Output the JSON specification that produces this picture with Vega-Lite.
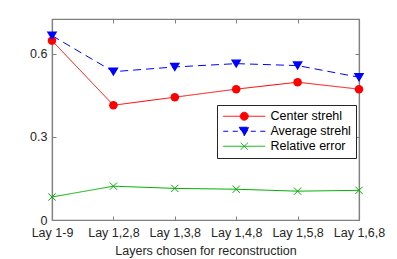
{
  "$schema": "https://vega.github.io/schema/vega-lite/v6.json",
  "width": 307,
  "height": 201,
  "autosize": {"type": "none"},
  "padding": {"left": 52, "top": 19, "right": 38, "bottom": 39},
  "background": "white",
  "config": {
    "font": "Liberation Sans",
    "view": {"stroke": "#808080", "strokeWidth": 1.2},
    "axis": {"domainColor": "#808080", "domainWidth": 1.2, "tickColor": "#808080", "labelColor": "#262626", "titleColor": "#262626", "labelFontSize": 12.5, "titleFontSize": 12.5, "titleFontWeight": "normal", "grid": false}
  },
  "data": {"values": [
    {"layers": "Lay 1-9", "series": "Center strehl", "value": 0.647},
    {"layers": "Lay 1,2,8", "series": "Center strehl", "value": 0.414},
    {"layers": "Lay 1,3,8", "series": "Center strehl", "value": 0.443},
    {"layers": "Lay 1,4,8", "series": "Center strehl", "value": 0.472},
    {"layers": "Lay 1,5,8", "series": "Center strehl", "value": 0.497},
    {"layers": "Lay 1,6,8", "series": "Center strehl", "value": 0.472},
    {"layers": "Lay 1-9", "series": "Average strehl", "value": 0.665},
    {"layers": "Lay 1,2,8", "series": "Average strehl", "value": 0.535},
    {"layers": "Lay 1,3,8", "series": "Average strehl", "value": 0.552},
    {"layers": "Lay 1,4,8", "series": "Average strehl", "value": 0.564},
    {"layers": "Lay 1,5,8", "series": "Average strehl", "value": 0.557},
    {"layers": "Lay 1,6,8", "series": "Average strehl", "value": 0.515},
    {"layers": "Lay 1-9", "series": "Relative error", "value": 0.083},
    {"layers": "Lay 1,2,8", "series": "Relative error", "value": 0.122},
    {"layers": "Lay 1,3,8", "series": "Relative error", "value": 0.114},
    {"layers": "Lay 1,4,8", "series": "Relative error", "value": 0.111},
    {"layers": "Lay 1,5,8", "series": "Relative error", "value": 0.104},
    {"layers": "Lay 1,6,8", "series": "Relative error", "value": 0.107}
  ]},
  "resolve": {"axis": {"x": "independent", "y": "independent"}},
  "encoding": {
    "x": {"field": "layers", "type": "ordinal", "sort": null, "scale": {"type": "point", "padding": 0},
          "axis": {"title": "Layers chosen for reconstruction", "labelAngle": 0, "tickSize": -4, "labelPadding": 10, "titlePadding": 6}},
    "y": {"field": "value", "type": "quantitative", "scale": {"domain": [0, 0.725], "nice": false},
          "axis": {"title": null, "values": [0, 0.3, 0.6], "format": ".1~f", "tickSize": -4, "labelPadding": 9}}
  },
  "layer": [
    {
      "mark": {"type": "line", "strokeWidth": 1},
      "encoding": {
        "color": {"field": "series", "type": "nominal",
                  "scale": {"domain": ["Center strehl", "Average strehl", "Relative error"], "range": ["#ff0000", "#0000ff", "#00b000"]},
                  "legend": {"title": null, "orient": "none", "legendX": 165, "legendY": 86,
                             "strokeColor": "#262626", "fillColor": "white", "padding": 5,
                             "labelFontSize": 12.5, "labelColor": "#000000", "symbolSize": 100, "symbolStrokeWidth": 1, "symbolOpacity": 1,
                             "symbolOffset": 16, "rowPadding": 2, "labelOffset": 20,
                             "encode": {"symbols": {"update": {
                               "shape": {"signal": "datum.value === 'Center strehl' ? 'M-4.2,0H4.2M0.8,0A0.8,0.8 0 1,1 -0.8,0A0.8,0.8 0 1,1 0.8,0Z' : datum.value === 'Average strehl' ? 'M-4.2,0H-3.2M-2.3,0H-1.3M1.3,0H2.3M3.2,0H4.2M-1,-0.8L1,-0.8L0,0.9Z' : 'M-4.2,0H4.2M-0.7,-0.7L0.7,0.7M-0.7,0.7L0.7,-0.7'"},
                               "fill": {"signal": "scale('color', datum.value)"},
                               "stroke": {"signal": "scale('color', datum.value)"},
                               "strokeDash": {"value": [1, 0]},
                               "opacity": {"value": 1}
                             }}}}},
        "strokeDash": {"field": "series", "type": "nominal",
                  "scale": {"domain": ["Center strehl", "Average strehl", "Relative error"], "range": [[1, 0], [8, 5], [1, 0]]},
                  "legend": null}
      }
    },
    {
      "transform": [{"filter": "datum.series === 'Center strehl'"}],
      "mark": {"type": "point", "filled": true, "size": 72, "opacity": 1, "shape": "circle"},
      "encoding": {
        "x": {"field": "layers", "type": "ordinal", "sort": null, "scale": {"type": "point", "padding": 0},
              "axis": {"orient": "top", "title": null, "labels": false, "tickSize": -4}},
        "y": {"field": "value", "type": "quantitative", "scale": {"domain": [0, 0.725], "nice": false},
              "axis": {"orient": "right", "title": null, "labels": false, "values": [0, 0.3, 0.6], "tickSize": -4}},
        "color": {"field": "series", "type": "nominal"}
      }
    },
    {
      "transform": [{"filter": "datum.series === 'Average strehl'"}],
      "mark": {"type": "point", "filled": true, "size": 72, "opacity": 1, "shape": "M-1.25,-1L1.25,-1L0,1.1Z"},
      "encoding": {
        "x": {"field": "layers", "type": "ordinal", "sort": null, "scale": {"type": "point", "padding": 0}, "axis": null},
        "y": {"field": "value", "type": "quantitative", "scale": {"domain": [0, 0.725], "nice": false}, "axis": null},
        "color": {"field": "series", "type": "nominal"}
      }
    },
    {
      "transform": [{"filter": "datum.series === 'Relative error'"}],
      "mark": {"type": "point", "filled": false, "size": 72, "strokeWidth": 1, "opacity": 1, "shape": "M-0.85,-0.85L0.85,0.85M-0.85,0.85L0.85,-0.85"},
      "encoding": {
        "x": {"field": "layers", "type": "ordinal", "sort": null, "scale": {"type": "point", "padding": 0}, "axis": null},
        "y": {"field": "value", "type": "quantitative", "scale": {"domain": [0, 0.725], "nice": false}, "axis": null},
        "color": {"field": "series", "type": "nominal"}
      }
    }
  ]
}
